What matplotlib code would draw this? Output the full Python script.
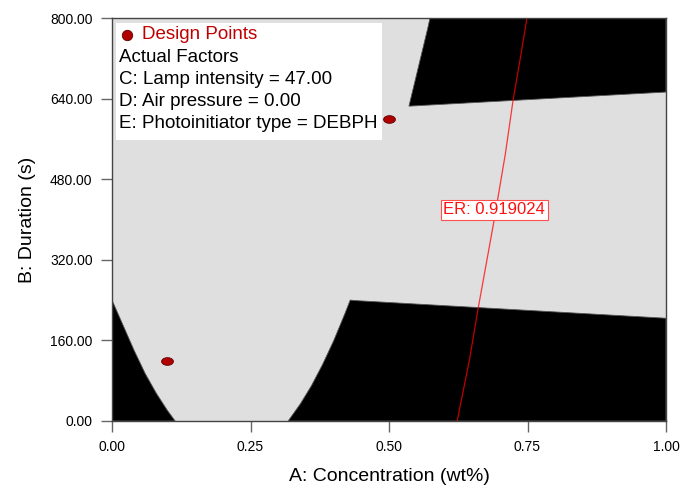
import numpy as np
import matplotlib
matplotlib.use('Agg')
from matplotlib import pyplot as plt
from matplotlib.path import Path
from matplotlib.patches import Rectangle

plt.rcParams['font.family'] = ['Liberation Sans', 'DejaVu Sans']

# design points
pts_conc = [0.10, 0.50]
pts_dur = [120, 600]

# infeasible (black) regions, boundaries
low_left_x = [0.0, 0.0, 0.02, 0.04, 0.06, 0.08, 0.10, 0.114]
low_left_y = [0, 240, 190, 140, 94, 55, 21, 0]

low_right_x = [0.318, 0.34, 0.36, 0.38, 0.40, 0.42, 0.43, 0.44, 1.0, 1.0]
low_right_y = [0, 34, 70, 112, 159, 212, 240, 239, 204, 0]

top_right_x = [0.574, 0.570, 0.536, 1.0, 1.0]
top_right_y = [800, 780, 625, 653, 800]

# ER contour
er_conc = [0.623, 0.645, 0.661, 0.690, 0.710, 0.724, 0.737, 0.749]
er_dur = [0, 120, 224, 400, 530, 637, 720, 800]
er_value = 0.919024

xticks = [0.0, 0.25, 0.5, 0.75, 1.0]
yticks = [0, 160, 320, 480, 640, 800]

fig = plt.figure(figsize=(6.96, 4.91), dpi=100)
ax = fig.add_axes([112/696, 70/491, 554/696, 403/491])
ax.set_facecolor('#dfdfdf')

for xs, ys in [(low_left_x, low_left_y), (low_right_x, low_right_y), (top_right_x, top_right_y)]:
    ax.fill(xs, ys, color='black', lw=0.6, ec='#555555', zorder=1)

ax.plot(er_conc, er_dur, color='red', lw=0.9, alpha=0.75, zorder=2)
ax.text(0.69, 419, 'ER: %.6f' % er_value, color='#ff1010', fontsize=12,
        ha='center', va='center', zorder=4,
        bbox=dict(boxstyle='square,pad=0.15', fc='white', ec='#ff5050', lw=0.8))

t = np.linspace(0, 2*np.pi, 40)
ell = Path(np.column_stack([np.cos(t), 0.65*np.sin(t)]))
ax.plot(pts_conc, pts_dur, ls='none', marker=ell, ms=8.5, mfc='#b00000', mec='#600000',
        mew=0.6, zorder=5)

# legend-like box
ax.add_patch(Rectangle((0.007, 0.697), 0.48, 0.291, transform=ax.transAxes,
                       fc='white', ec='none', zorder=6))
ax.plot([0.027], [0.958], transform=ax.transAxes, ls='none', marker='o', ms=7.5,
        mfc='#b00000', mec='#600000', mew=0.6, zorder=7, clip_on=False)
ax.text(0.055, 0.958, 'Design Points', transform=ax.transAxes, fontsize=13.5,
        color='#c00000', va='center', zorder=7)
lines = ['Actual Factors', 'C: Lamp intensity = 47.00', 'D: Air pressure = 0.00',
         'E: Photoinitiator type = DEBPH']
line_y = [0.903, 0.848, 0.794, 0.737]
for s, yy in zip(lines, line_y):
    ax.text(0.0126, yy, s, transform=ax.transAxes, fontsize=13.5,
            color='black', va='center', zorder=7)

ax.set_xlim(0, 1)
ax.set_ylim(0, 800)
ax.set_xticks(xticks)
ax.set_yticks(yticks)
ax.set_xticklabels(['%.2f' % v for v in xticks], fontsize=10)
ax.set_yticklabels(['%.2f' % v for v in yticks], fontsize=10)
ax.tick_params(direction='out', length=8, width=1, color='#666666', pad=6)
for s in ax.spines.values():
    s.set_color('#444444')
    s.set_linewidth(1)
    s.set_zorder(8)
ax.set_xlabel('A: Concentration (wt%)', fontsize=14, labelpad=10)
ax.set_ylabel('B: Duration (s)', fontsize=14, labelpad=10)

plt.savefig('out.png', dpi=100)
